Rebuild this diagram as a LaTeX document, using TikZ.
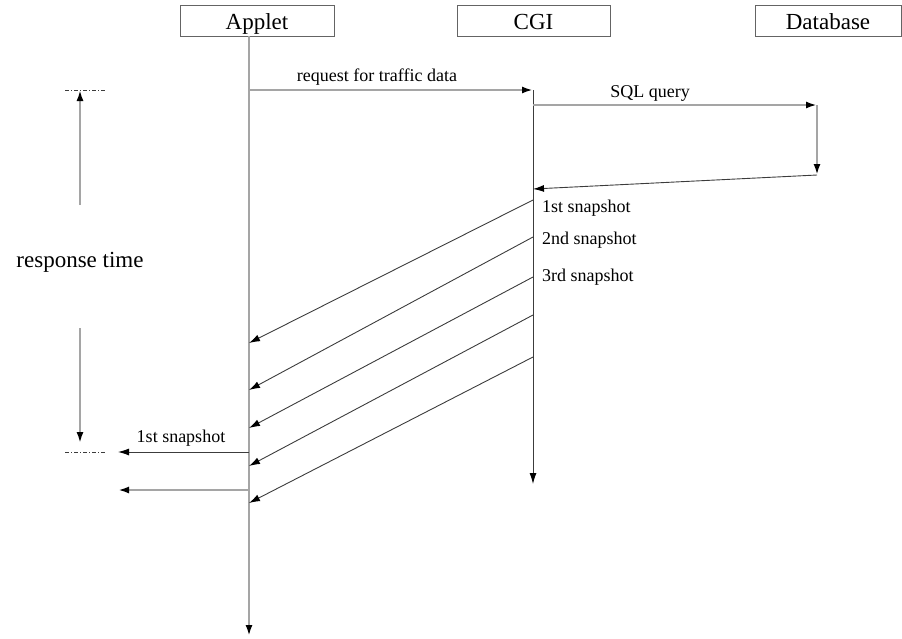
\documentclass[tikz,border=0pt]{standalone}
\usepackage{fontspec}
\setmainfont{Liberation Serif}
\usetikzlibrary{arrows.meta}
\definecolor{lifegray}{RGB}{165,165,165}
\definecolor{msgdark}{RGB}{60,60,60}
\definecolor{boxline}{RGB}{100,100,100}
\begin{document}
\begin{tikzpicture}[x=1pt,y=-1pt,
  headtip/.style={-{Latex[length=11pt,width=7pt,color=black]}},
  objbox/.style={draw=boxline,line width=0.9pt,inner sep=0pt,minimum height=31pt,
    text height=19pt,text depth=2pt,font=\fontsize{23}{23}\selectfont},
  lifeline/.style={draw=lifegray,line width=2.4pt},
  msgline/.style={draw=msgdark,line width=0.9pt},
  lbl/.style={inner sep=0pt,font=\fontsize{18}{18}\selectfont},
  biglbl/.style={inner sep=0pt,font=\fontsize{23}{23}\selectfont},
  bracket/.style={draw=msgdark,line width=0.6pt,dash pattern=on 4pt off 2pt on 1pt off 2pt}]
\useasboundingbox (0,0) rectangle (902,638);

% participant boxes
\node[objbox,minimum width=154pt] (applet) at (257,20.5) {Applet};
\node[objbox,minimum width=153pt] (cgi) at (533.5,20.5) {CGI};
\node[objbox,minimum width=146pt] (db) at (828,20.5) {Database};

% lifeline anchor points
\coordinate (aTop) at (249,36);
\coordinate (aEnd) at (249,636);
\coordinate (aReq) at (249,90);
\coordinate (cTop) at (533,90);
\coordinate (cEnd) at (533,484);
\coordinate (cSql) at (533,105);
\coordinate (dTop) at (817,105);
\coordinate (dEnd) at (817,175);
\coordinate (cRet) at (533,189);

% lifelines
\draw[lifeline,headtip] (aTop) -- (aEnd);
\draw[msgline,headtip] (cTop) -- (cEnd);

% request and database round trip
\draw[lifeline,headtip] (aReq) -- (cTop);
\node[lbl] (reqlbl) at (377,77) {request for traffic data};
\draw[lifeline,headtip] (cSql) -- (dTop);
\node[lbl] (sqllbl) at (650,93) {SQL query};
\draw[lifeline,headtip] (dTop) -- (dEnd);
\draw[msgline,headtip] (dEnd) -- (cRet);

% snapshots sent from CGI to the applet
\foreach \i/\ys/\ye in {1/200/343,2/237/390,3/277/428,4/315/466,5/357/503}{
  \coordinate (s\i) at (533,\ys);
  \coordinate (r\i) at (249,\ye);
  \draw[msgline,headtip] (s\i) -- (r\i);
}
\node[lbl,anchor=west] (snap1) at (542,208) {1st snapshot};
\node[lbl,anchor=west] (snap2) at (542,240) {2nd snapshot};
\node[lbl,anchor=west] (snap3) at (542,277) {3rd snapshot};

% output from the applet
\coordinate (o1s) at (249,452);
\coordinate (o1e) at (118,452);
\coordinate (o2s) at (249,490);
\coordinate (o2e) at (118,490);
\draw[msgline,headtip] (o1s) -- (o1e);
\node[lbl] (outlbl) at (181,438) {1st snapshot};
\draw[lifeline,headtip] (o2s) -- (o2e);

% response time measure
\coordinate (rtTopL) at (65,90);
\coordinate (rtTopR) at (105,90);
\coordinate (rtBotL) at (65,452);
\coordinate (rtBotR) at (105,452);
\draw[bracket] (rtTopL) -- (rtTopR);
\draw[bracket] (rtBotL) -- (rtBotR);
\coordinate (rtUpS) at (80,205);
\coordinate (rtUpE) at (80,90);
\coordinate (rtDnS) at (80,328);
\coordinate (rtDnE) at (80,443);
\draw[lifeline,line width=2pt,headtip] (rtUpS) -- (rtUpE);
\draw[lifeline,line width=2pt,headtip] (rtDnS) -- (rtDnE);
\node[biglbl] (rtlbl) at (80,262) {response time};
\end{tikzpicture}
\end{document}
